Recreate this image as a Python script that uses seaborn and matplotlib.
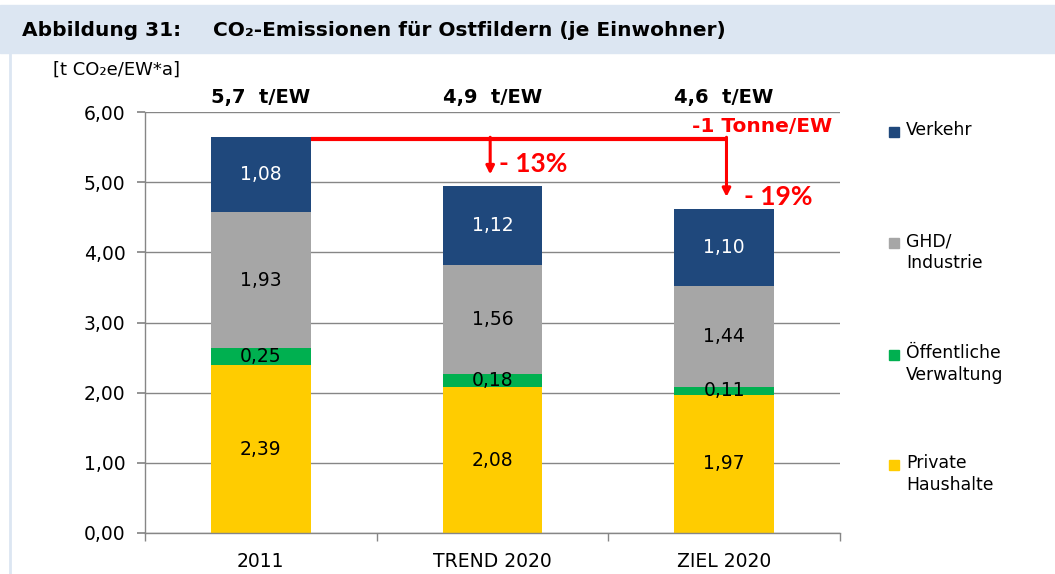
import numpy as np
import pandas as pd
import matplotlib.pyplot as plt
import seaborn as sns
from matplotlib.patches import Rectangle
from matplotlib.lines import Line2D

# ── Daten ────────────────────────────────────
szenarien = ["2011", "TREND 2020", "ZIEL 2020"]
private_haushalte = [2.39, 2.08, 1.97]
oeffentliche_verwaltung = [0.25, 0.18, 0.11]
ghd_industrie = [1.93, 1.56, 1.44]
verkehr = [1.08, 1.12, 1.10]
summen_text = ["5,7  t/EW", "4,9  t/EW", "4,6  t/EW"]
reduktion_text = ["- 13%", "- 19%"]
y_ticks = [0, 1, 2, 3, 4, 5, 6]

sektoren = ["Private Haushalte", "Öffentliche Verwaltung", "GHD/Industrie", "Verkehr"]
legenden_text = {
    "Verkehr": "Verkehr",
    "GHD/Industrie": "GHD/\nIndustrie",
    "Öffentliche Verwaltung": "Öffentliche\nVerwaltung",
    "Private Haushalte": "Private\nHaushalte",
}
farben = {
    "Private Haushalte": "#FFCC00",
    "Öffentliche Verwaltung": "#00B050",
    "GHD/Industrie": "#A6A6A6",
    "Verkehr": "#1F487C",
}
text_farben = {
    "Private Haushalte": "black",
    "Öffentliche Verwaltung": "black",
    "GHD/Industrie": "black",
    "Verkehr": "white",
}

df = pd.DataFrame({
    "Szenario": szenarien,
    "Private Haushalte": private_haushalte,
    "Öffentliche Verwaltung": oeffentliche_verwaltung,
    "GHD/Industrie": ghd_industrie,
    "Verkehr": verkehr,
})
kum = df[sektoren].cumsum(axis=1)
kum["Szenario"] = df["Szenario"]
gesamt = df[sektoren].sum(axis=1)

# ── Stil ─────────────────────────────────────
sns.set_theme(style="white", rc={"text.color": "black",
                                 "xtick.labelcolor": "black",
                                 "ytick.labelcolor": "black"})
plt.rcParams["font.family"] = ["DejaVu Sans"]
grau = "#868686"
rot = "#FF0000"
band = "#DCE6F2"
W, H = 1055, 574

fig = plt.figure(figsize=(W / 100, H / 100), dpi=100)
fig.patch.set_facecolor("white")
ax = fig.add_axes([145 / W, 1 - 533 / H, 695 / W, 421 / H])

# gestapelte Balken: kumulierte Summen von oben nach unten übereinander
bar_breite = 0.43
for sektor in reversed(sektoren):
    sns.barplot(data=kum, x="Szenario", y=sektor, color=farben[sektor],
                width=bar_breite, saturation=1, linewidth=0, errorbar=None,
                ax=ax, zorder=2)

# Werte in den Segmenten
for i in range(len(szenarien)):
    unten = 0
    for sektor in sektoren:
        wert = df.loc[i, sektor]
        ax.text(i, unten + wert / 2, f"{wert:.2f}".replace(".", ","),
                ha="center", va="center", fontsize=13.5,
                color=text_farben[sektor], zorder=4)
        unten += wert
    ax.text(i, 6.2, summen_text[i], ha="center", va="center",
            fontsize=14, fontweight="bold", color="black", clip_on=False)

# Achsen
ax.set_ylim(0, 6)
ax.set_xlim(-0.5, 2.5)
ax.set_yticks(y_ticks)
ax.set_yticklabels([f"{t:.2f}".replace(".", ",") for t in y_ticks], fontsize=13.5)
ax.set_xticks(range(len(szenarien)))
ax.set_xticklabels(szenarien, fontsize=13.5)
ax.set_xticks([-0.5, 0.5, 1.5, 2.5], minor=True)
ax.set_xlabel("")
ax.set_ylabel("")
ax.yaxis.grid(True, color=grau, lw=1)
ax.set_axisbelow(True)
for s in ["top", "right"]:
    ax.spines[s].set_visible(False)
for s in ["left", "bottom"]:
    ax.spines[s].set_color(grau)
    ax.spines[s].set_linewidth(1)
ax.tick_params(axis="y", direction="out", length=6, color=grau, labelcolor="black",
               pad=8, left=True)
ax.tick_params(axis="x", which="major", length=0, pad=14, labelcolor="black")
ax.tick_params(axis="x", which="minor", direction="out", length=6, color=grau, bottom=True)

# rote Markierung der Reduktion
y_linie = gesamt[0] - 0.03
x_start = 0 + bar_breite / 2
x_ende = 2.01
ax.plot([x_start, x_ende], [y_linie, y_linie], color=rot, lw=3, zorder=5,
        solid_capstyle="butt")
for idx in [1, 2]:
    x_pfeil = 0.99 if idx == 1 else x_ende
    ax.annotate("", xy=(x_pfeil, gesamt[idx] + 0.17), xytext=(x_pfeil, y_linie + 0.02),
                arrowprops=dict(arrowstyle="-|>", color=rot, lw=2.2,
                                mutation_scale=12, shrinkA=0, shrinkB=0),
                zorder=5)
ax.text(1.03, 5.26, reduktion_text[0], ha="left", va="center", color=rot,
        fontsize=19, fontweight="bold", family=["Lato", "DejaVu Sans"])
ax.text(2.085, 4.79, reduktion_text[1], ha="left", va="center", color=rot,
        fontsize=19, fontweight="bold", family=["Lato", "DejaVu Sans"])
ax.text(2.465, 5.80, "-1 Tonne/EW", ha="right", va="center", color=rot,
        fontsize=14.5, fontweight="bold", clip_on=False)

# Legende (Marker an der ersten Zeile wie im Original)
legende_y = {"Verkehr": 132, "GHD/Industrie": 243,
             "Öffentliche Verwaltung": 355, "Private Haushalte": 465}
for sektor in reversed(sektoren):
    yc = legende_y[sektor]
    fig.add_artist(Rectangle((889 / W, 1 - (yc + 5) / H), 10 / W, 10 / H,
                             transform=fig.transFigure, color=farben[sektor]))
    fig.text(906 / W, 1 - (yc - 11) / H, legenden_text[sektor], ha="left", va="top",
             fontsize=12.4, linespacing=1.3, color="black")

# Titelband
fig.add_artist(Rectangle((0, 1 - 53 / H), 1, 48 / H, transform=fig.transFigure,
                         color=band, zorder=0))
fig.add_artist(Line2D([10 / W, 10 / W], [0, 1 - 53 / H], transform=fig.transFigure,
                      color=band, lw=2))
fig.text(22 / W, 1 - 30 / H, "Abbildung 31:", ha="left", va="center",
         fontsize=14.5, fontweight="bold", color="black")
fig.text(213 / W, 1 - 30 / H, "CO₂-Emissionen für Ostfildern (je Einwohner)",
         ha="left", va="center", fontsize=14.5, fontweight="bold", color="black")
fig.text(53 / W, 1 - 70 / H, "[t CO₂e/EW*a]", ha="left", va="center",
         fontsize=13, color="black")

fig.savefig("out.png", dpi=100)
